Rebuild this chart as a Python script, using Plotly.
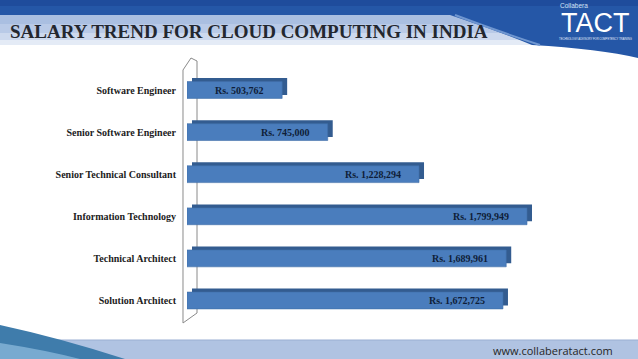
import plotly.graph_objects as go

# ---- data ----
roles = ["Software Engineer", "Senior Software Engineer", "Senior Technical Consultant",
         "Information Technology", "Technical Architect", "Solution Architect"]
salaries = [503762, 745000, 1228294, 1799949, 1689961, 1672725]
value_labels = ["Rs. 503,762", "Rs. 745,000", "Rs. 1,228,294",
                "Rs. 1,799,949", "Rs. 1,689,961", "Rs. 1,672,725"]
title_text = "SALARY TREND FOR CLOUD COMPUTING IN INDIA"
footer_text = "www.collaberatact.com"

W, H = 638, 359
X_MAX = 2000000
X0_PX, X_END_PX = 187, 187 + X_MAX * 340 / 1799949
DEPTH = 5 * X_MAX / (X_END_PX - X0_PX)   # 3-D depth of bars, in data units

def px(x):  # pixel -> paper x
    return x / W
def py(y):  # pixel -> paper y
    return 1 - y / H
def path(pts, close=True):
    s = "M" + " L".join(f"{px(a):.5f},{py(b):.5f}" for a, b in pts)
    return s + (" Z" if close else "")
def qpath(cmds):
    out = []
    for c in cmds:
        op, coords = c[0], c[1:]
        out.append(op + " ".join(f"{px(coords[i]):.5f},{py(coords[i+1]):.5f}" for i in range(0, len(coords), 2)))
    return " ".join(out)

serif = "Liberation Serif"

fig = go.Figure()
# back (3-D depth) face
fig.add_trace(go.Bar(
    y=roles, x=salaries, base=[DEPTH] * len(salaries), orientation="h",
    width=0.40, offset=-0.20 - 3.5 / 42.1,
    marker=dict(color="#335c90", line=dict(width=0)),
    hoverinfo="skip", showlegend=False,
))
# front face
fig.add_trace(go.Bar(
    y=roles, x=salaries, orientation="h",
    width=0.40, offset=-0.20,
    marker=dict(color="#4a7dbd", line=dict(width=0.6, color="#3f6ea8")),
    hoverinfo="skip", showlegend=False,
))

annotations = []
for r, v, lab in zip(roles, salaries, value_labels):
    annotations.append(dict(
        x=v, y=r, xref="x", yref="y", text=f"<b>{lab}</b>", showarrow=False,
        xanchor="right", yanchor="middle", xshift=-16,
        font=dict(family=serif, size=10, color="#0f1d38"),
    ))

# title
annotations.append(dict(
    x=px(8), y=py(31), xref="paper", yref="paper", text=f"<b>{title_text}</b>",
    showarrow=False, xanchor="left", yanchor="middle",
    font=dict(family=serif, size=19, color="#23272f"),
))
# logo
annotations.append(dict(x=px(558), y=py(6), xref="paper", yref="paper", text="Collabera",
                        showarrow=False, xanchor="left", yanchor="middle",
                        font=dict(family="Liberation Sans Narrow, Liberation Sans", size=6.5, color="#d5e4f7")))
annotations.append(dict(x=px(595), y=py(23), xref="paper", yref="paper", text="TACT",
                        showarrow=False, xanchor="center", yanchor="middle",
                        font=dict(family="Liberation Sans", size=27, color="#ffffff")))
annotations.append(dict(x=px(595), y=py(38.5), xref="paper", yref="paper",
                        text="TECHNOLOGY ADVISORY FOR COMPETENCY TRAINING",
                        showarrow=False, xanchor="center", yanchor="middle",
                        font=dict(family="Liberation Sans Narrow, Liberation Sans", size=2.7, color="#e8f0fb")))
# footer text
annotations.append(dict(x=px(615), y=py(350.5), xref="paper", yref="paper", text=footer_text,
                        showarrow=False, xanchor="right", yanchor="middle",
                        font=dict(family="Open Sans", size=11, color="#262626")))

shapes = []
# header light band (gradient approximation)
for y0, y1, c in [(15, 24, "#aabfe1"), (24, 33, "#b9cae7"), (33, 40, "#cdd9ee"), (40, 45, "#e4ebf6")]:
    shapes.append(dict(type="rect", xref="paper", yref="paper", x0=px(0), x1=px(W),
                       y0=py(y1), y1=py(y0), fillcolor=c, line=dict(width=0), layer="below"))
# header dark blue
shapes.append(dict(type="path", xref="paper", yref="paper", layer="below",
                   path=qpath([("M", 0, 0), ("L", W, 0), ("L", W, 58), ("Q", 600, 49, 532, 45),
                               ("Q", 495, 30, 450, 15), ("L", 0, 15), ("Z",)]),
                   fillcolor="#2557a7", line=dict(width=0)))
shapes.append(dict(type="path", xref="paper", yref="paper", layer="below",
                   path=qpath([("M", 0, 0), ("L", W, 0), ("L", W, 6), ("L", 0, 6), ("Z",)]),
                   fillcolor="#1f4c9c", line=dict(width=0)))
shapes.append(dict(type="path", xref="paper", yref="paper", layer="below",
                   path=qpath([("M", 455, 15), ("Q", 500, 32, 540, 45)]),
                   line=dict(width=2, color="#6f96d0")))
# footer band
shapes.append(dict(type="rect", xref="paper", yref="paper", x0=0, x1=1, y0=py(H), y1=py(340),
                   fillcolor="#b0c3e2", line=dict(width=0), layer="below"))
shapes.append(dict(type="line", xref="paper", yref="paper", x0=0, x1=1, y0=py(340), y1=py(340),
                   line=dict(width=1, color="#9aafd2"), layer="below"))
shapes.append(dict(type="path", xref="paper", yref="paper", layer="below",
                   path=qpath([("M", 0, 325), ("Q", 60, 338, 125, H), ("L", 0, H), ("Z",)]),
                   fillcolor="#3f7cab", line=dict(width=0)))
shapes.append(dict(type="path", xref="paper", yref="paper", layer="below",
                   path=qpath([("M", 0, 343), ("Q", 45, 350, 80, H), ("L", 0, H), ("Z",)]),
                   fillcolor="#78aad0", line=dict(width=0)))
# chart wall
shapes.append(dict(type="path", xref="paper", yref="paper", layer="below",
                   path=path([(197, 313), (183, 323), (183, 70), (191, 58), (197, 61), (197, 313)], close=False),
                   line=dict(width=1, color="#8a8a8a")))

fig.update_layout(
    width=W, height=H, margin=dict(l=0, r=0, t=0, b=0),
    paper_bgcolor="#ffffff", plot_bgcolor="rgba(0,0,0,0)",
    barmode="overlay", showlegend=False,
    xaxis=dict(domain=[px(X0_PX), px(X_END_PX)], range=[0, X_MAX], visible=False, fixedrange=True),
    yaxis=dict(domain=[py(321.55), py(68.95)], type="category", categoryorder="array",
               categoryarray=roles, range=[5.5, -0.5], showgrid=False, zeroline=False,
               showline=False, ticks="", ticklabelstandoff=10, fixedrange=True,
               tickfont=dict(family=serif, size=10, color="#1c1c1c")),
    annotations=annotations, shapes=shapes,
)
fig.update_yaxes(ticktext=[f"<b>{r}</b>" for r in roles], tickvals=roles)

fig.write_html("out.html", config={"displayModeBar": False},
               post_script="document.body.style.margin='0px';document.body.style.overflow='hidden';")
